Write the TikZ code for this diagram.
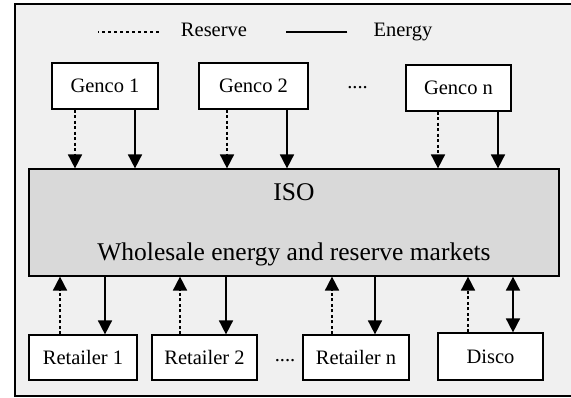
\documentclass[tikz,border=0pt]{standalone}
\usepackage{fontspec}
\setmainfont{Liberation Serif}
\usetikzlibrary{arrows.meta}
\definecolor{panel}{HTML}{F0F0F0}
\definecolor{isogray}{HTML}{D9D9D9}
\tikzset{
  unit/.style={draw,fill=white,line width=1.2pt,inner sep=0pt,
    font=\fontsize{20.5}{24}\selectfont},
  en/.style={line width=1.7pt,-{Triangle[width=14pt,length=14pt]}},
  res/.style={line width=1.7pt,dash pattern=on 3pt off 2.5pt,-{Triangle[width=14pt,length=14pt]}},
  lbl/.style={font=\fontsize{20.5}{24}\selectfont,inner sep=0pt}
}
\begin{document}
\begin{tikzpicture}[x=1pt,y=-1pt]
  \useasboundingbox (0,0) rectangle (571,398);
  \draw[fill=panel,line width=1.3pt](15,4) rectangle (580,396);
  \node[lbl,anchor=base](resv) at (214,37){Reserve};
  \node[lbl,anchor=base](enrg) at (403,37){Energy};
  \draw[line width=1.7pt,dash pattern=on 3pt off 3pt]([xshift=-22pt,yshift=5pt]resv.base west)--++(-61,0);
  \draw[line width=1.7pt]([xshift=-26pt,yshift=5pt]enrg.base west)--++(-61,0);
  \node[unit,minimum width=106pt,minimum height=46pt](g1) at (105,86){Genco 1};
  \node[unit,minimum width=109pt,minimum height=46pt](g2) at (253.5,86){Genco 2};
  \node[unit,minimum width=105pt,minimum height=46pt](gn) at (458.5,88){Genco n};
  \node[lbl,anchor=base](gdots) at (357.5,89){....};
  \node[draw,fill=isogray,line width=1.2pt,minimum width=530pt,minimum height=107pt](iso) at (294,222.5){};
  \node[lbl,font=\fontsize{25.5}{30}\selectfont](isoname) at (294,192){ISO};
  \node[lbl,font=\fontsize{25.5}{30}\selectfont,anchor=base](isomkt) at (294,261){Wholesale energy and reserve markets};
  \node[unit,minimum width=108pt,minimum height=45pt](r1) at (83,357.5){Retailer 1};
  \node[unit,minimum width=105pt,minimum height=45pt](r2) at (204.5,357.5){Retailer 2};
  \node[unit,minimum width=106pt,minimum height=45pt](rn) at (356,357.5){Retailer n};
  \node[unit,minimum width=105pt,minimum height=47pt](disco) at (490.5,356.5){Disco};
  \node[lbl,anchor=base](rdots) at (285,362){....};
  \foreach \g/\a/\b in {g1/-30/30,g2/-26.5/33.5,gn/-20.5/39.5}{
    \draw[res]([xshift=\a pt]\g.south)--([xshift=\a pt]\g.south|-iso.north);
    \draw[en]([xshift=\b pt]\g.south)--([xshift=\b pt]\g.south|-iso.north);
  }
  \foreach \r/\a/\b in {r1/-23/22,r2/-24.5/21.5,rn/-24/19}{
    \draw[res]([xshift=\a pt]\r.north)--([xshift=\a pt]\r.north|-iso.south);
    \draw[en]([xshift=\b pt]\r.north|-iso.south)--([xshift=\b pt]\r.north);
  }
  \draw[res]([xshift=-22.5pt]disco.north)--([xshift=-22.5pt]disco.north|-iso.south);
  \draw[en,{Triangle[width=14pt,length=14pt]}-{Triangle[width=14pt,length=14pt]}]([xshift=22.5pt]disco.north)--([xshift=22.5pt]disco.north|-iso.south);
\end{tikzpicture}
\end{document}
